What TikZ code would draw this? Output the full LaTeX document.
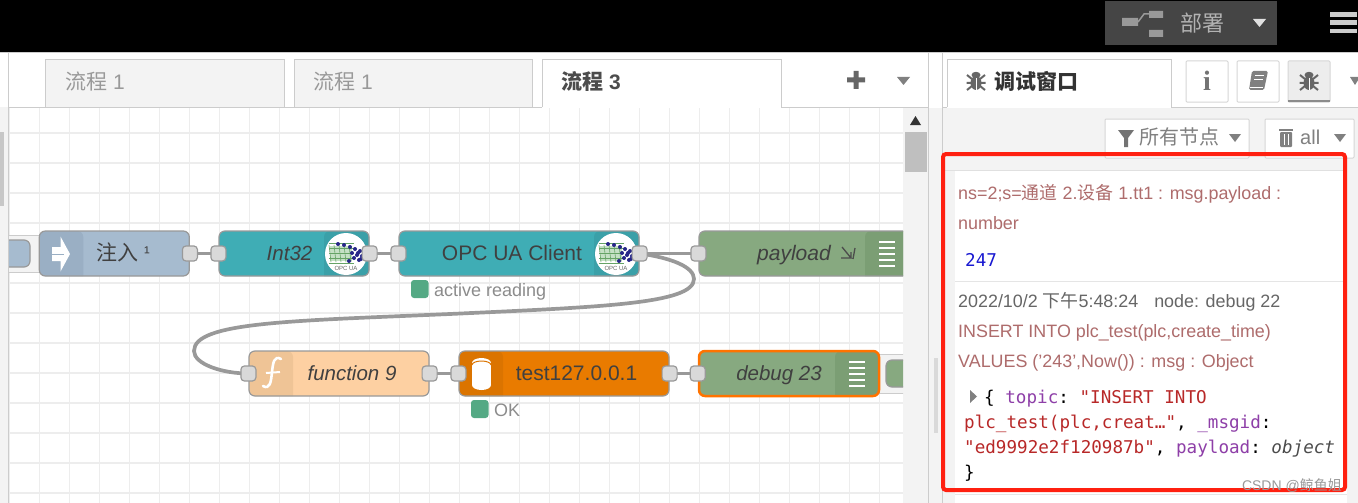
\documentclass[tikz,border=0pt]{standalone}
\usepackage{fontspec}
\setmainfont{Liberation Sans}
\setmonofont{DejaVu Sans Mono}
\newfontfamily\cjk{Noto Sans CJK SC}
\newfontfamily\slabfont{Liberation Serif}
\newcommand{\px}[1]{\fontsize{#1}{#1}\selectfont}
\definecolor{panelbg}{HTML}{F3F3F3}
\definecolor{edgegrey}{HTML}{CCCCCC}
\definecolor{wiregrey}{HTML}{999999}
\definecolor{injectblue}{HTML}{A6BBCF}
\definecolor{injectdark}{HTML}{9AAFC4}
\definecolor{opcteal}{HTML}{3FADB5}
\definecolor{opcdark}{HTML}{3AA0A8}
\definecolor{debuggreen}{HTML}{87A980}
\definecolor{debugdark}{HTML}{7B9E74}
\definecolor{funcorange}{HTML}{FDD0A2}
\definecolor{funcdark}{HTML}{EFC496}
\definecolor{dborange}{HTML}{E97B00}
\definecolor{dbdark}{HTML}{DB7400}
\definecolor{statusgreen}{HTML}{54A984}
\definecolor{topicred}{HTML}{AE6C6C}
\definecolor{keypurple}{HTML}{8E3FA8}
\definecolor{strred}{HTML}{B82828}
\tikzset{
	flownode/.style={draw=wiregrey, line width=1.2pt, rounded corners=6pt, inner sep=0pt, minimum height=45pt},
	leftpart/.style 2 args={path picture={\fill[#1] (path picture bounding box.north west) rectangle ++(#2,60);}},
	rightpart/.style 2 args={path picture={\fill[#1] (path picture bounding box.north east) rectangle ++(-#2,60);}},
	port/.style={draw=wiregrey, fill=black!15, line width=1.2pt, rounded corners=3.5pt, inner sep=0pt, minimum size=15pt},
	wire/.style={draw=wiregrey, line width=3.7pt},
	nodetext/.style={font=\px{21}, text=black!75, inner sep=0pt, text height=17pt, text depth=3pt},
	statustext/.style={font=\px{18}, text=black!45, inner sep=0pt, anchor=west, text height=15pt, text depth=2pt},
	tabtext/.style={font=\px{21}, text=black!40, inner sep=0pt, anchor=west, text height=17pt, text depth=3pt},
	tabbox/.style={draw=edgegrey, line width=1pt, fill=panelbg},
	msgtext/.style={font=\px{17.9}, inner sep=0pt, anchor=west, text height=15pt, text depth=2pt},
	objtext/.style={font=\ttfamily\px{17.6}, inner sep=0pt, anchor=west, text height=15pt, text depth=2pt},
	toolbox/.style={draw=edgegrey!80, line width=1pt, fill=white, rounded corners=1pt},
	bugicon/.pic={
		\fill (0,2) ellipse (5.5 and 7);
		\fill (0,-6) ellipse (4.5 and 3.2);
		\draw[line width=2pt] (-9,-6) -- (-4,-2) (9,-6) -- (4,-2) (-9.5,2) -- (9.5,2) (-9,9) -- (-4,5) (9,9) -- (4,5);
		\draw[white, line width=0.8pt] (0,-3) -- (0,9);
	},
	opcicon/.pic={
		\fill[white] (0,0) circle (21);
		\fill[green!30!gray!35] (-16,-8) rectangle (6,7);
		\foreach \a in {-13,-8,...,7}{
			\draw[green!40!black!60, line width=0.6pt] (\a-4,-9) -- (\a-2,8);
			\draw[green!40!black!60, line width=0.6pt] (-17,\a+2) -- (8,\a+2);
		}
		\foreach \a/\b in {4/-7,9/-5,14/-3,6/-1,11/1,16/2,8/4,13/6,3/7,-8/-10,-2/-9,12/-1,15/5}{
			\fill[blue!45!black!85] (\a,\b) circle (2);
		}
		\node[font=\px{6}, text=black!60, inner sep=0pt] (label) at (0,14) {OPC UA};
	},
	listicon/.pic={
		\foreach \a in {-12,-6,0,6,12}{
			\draw[white, line width=2.2pt] (-8,\a) -- (8,\a);
		}
	},
}
\begin{document}
\begin{tikzpicture}[x=1pt, y=-1pt]
	\useasboundingbox (0,0) rectangle (1358,503);
	\fill[white] (0,0) rectangle (1358,503);
	\fill[black] (0,0) rectangle (1358,52.5);
	\draw[edgegrey, line width=1pt] (0,53) -- (1358,53);

	% editor tabs
	\fill[panelbg] (0,107) rectangle (8.5,503);
	\fill[black!22] (0,132) rectangle (4,206);
	\draw[edgegrey, line width=1pt] (8.5,53) -- (8.5,503);
	\draw[edgegrey, line width=1pt] (8.5,107) -- (928,107);
	\draw[tabbox] (45.5,107) -- (45.5,59.5) -- (284,59.5) -- (284,107);
	\draw[tabbox] (294,107) -- (294,59.5) -- (532.5,59.5) -- (532.5,107);
	\fill[white] (542,60) rectangle (781,108);
	\draw[edgegrey, line width=1pt] (542,107) -- (542,59.5) -- (781,59.5) -- (781,107);
	\node[tabtext] (tabone) at (65,82) {{\cjk 流程} 1};
	\node[tabtext] (tabtwo) at (313,82) {{\cjk 流程} 1};
	\node[tabtext, text=black!70, font=\px{21}\bfseries] (tabthree) at (561,82) {{\cjk\bfseries 流程} 3};
	\fill[black!60] (853.5,71) rectangle (858.5,89) (847,77.5) rectangle (865,82.5);
	\fill[black!50] (897,77) -- (910,77) -- (903.5,85) -- cycle;

	% canvas
	\fill[panelbg] (903,108) rectangle (928,503);
	\fill[black!80] (910,125) -- (921,125) -- (915.5,116) -- cycle;
	\fill[black!25] (905,132) rectangle (926.5,172);
	\draw[edgegrey, line width=1pt] (928.5,53) -- (928.5,503);

	\begin{scope}
		\clip (9,108) rectangle (903,503);
		\foreach \x in {0,...,29}{
			\draw[black!7, line width=1.4pt] (9.5+30*\x,108) -- (9.5+30*\x,503);
		}
		\foreach \y in {0,...,12}{
			\draw[black!7, line width=1.4pt] (9,133+30*\y) -- (903,133+30*\y);
		}

		% button stubs at both ends
		\draw[fill=panelbg, draw=edgegrey, line width=1pt] (0,235) rectangle (42,272);
		\node[flownode, fill=injectblue, minimum width=30pt, minimum height=27pt] (injectbtn) at (15,253.5) {};
		\draw[fill=panelbg, draw=edgegrey, line width=1pt] (875,354) rectangle (910,393);
		\node[flownode, fill=debuggreen, minimum width=30pt, minimum height=27pt] (debugbtn) at (901,373.5) {};

		% flow nodes
		\node[flownode, fill=injectblue, minimum width=150pt, leftpart={injectdark}{44}] (inject) at (114.3,253.5) {};
		\node[flownode, fill=opcteal, minimum width=150pt, rightpart={opcdark}{45}] (int32) at (294,253.5) {};
		\node[flownode, fill=opcteal, minimum width=240pt, rightpart={opcdark}{45}] (opcclient) at (519,253.5) {};
		\node[flownode, fill=debuggreen, minimum width=225pt, rightpart={debugdark}{59}] (payload) at (811.5,253.5) {};
		\node[flownode, fill=funcorange, minimum width=180pt, leftpart={funcdark}{44}] (function) at (339,373.5) {};
		\node[flownode, fill=dborange, minimum width=210pt, leftpart={dbdark}{44}] (mysql) at (564,373.5) {};
		\node[flownode, fill=debuggreen, draw=orange!90!red, line width=2.5pt, minimum width=180pt, rightpart={debugdark}{44}] (debugnode) at (789,373.5) {};

		% wires
		\draw[wire] (inject.east) -- (int32.west);
		\draw[wire] (int32.east) -- (opcclient.west);
		\draw[wire] (opcclient.east) -- (payload.west);
		\draw[wire] (function.east) -- (mysql.west);
		\draw[wire] (mysql.east) -- (debugnode.west);
		\coordinate (bendright) at (694,279);
		\coordinate (bendleft) at (194,351);
		\draw[wire] (opcclient.east) .. controls (672,258) and (694,267) .. (bendright) .. controls (694,304) and (600,307) .. (450,314) .. controls (290,321) and (194,322) .. (bendleft) .. controls (194,364) and (222,373.5) .. (function.west);

		% icons
		\fill[white] (52,247) -- (60.5,247) -- (60.5,236.5) -- (70,254) -- (60.5,271.5) -- (60.5,261) -- (52,261) -- cycle;
		\draw[injectdark, line width=1pt] (52,254) -- (64,254);
		\pic (opcA) at (346,254) {opcicon};
		\pic (opcB) at (616,254) {opcicon};
		\pic (listA) at (887,254) {listicon};
		\pic (listB) at (857,374) {listicon};
		\draw[black!70, line width=1.3pt] (842,247) -- (851,258) -- (841,258) (851,258) -- (851,252) (855,248) -- (853,259);
		\draw[white, line width=2.6pt, line cap=round] (281,359) .. controls (274,355) and (273,363) .. (272,372) .. controls (271,382) and (270,390) .. (263,386);
		\draw[white, line width=2pt] (266,373) -- (280,372);
		\fill[white] (472,364) rectangle (491,385);
		\fill[white] (481.5,385) ellipse (9.5 and 5);
		\fill[white] (481.5,363) ellipse (9.5 and 5);
		\draw[dbdark, line width=1pt] (472,365) arc [start angle=180, end angle=360, x radius=9.5, y radius=4];

		% ports
		\foreach \p [count=\i] in {inject.east, int32.west, int32.east, opcclient.west, opcclient.east, payload.west, function.west, function.east, mysql.west, mysql.east, debugnode.west}{
			\node[port] (port\i) at (\p) {};
		}

		% labels on nodes
		\node[nodetext, anchor=west] (injectlabel) at (96,253.5) {{\cjk 注入} \raisebox{2pt}{\px{17}¹}};
		\node[nodetext, font=\px{20.5}\itshape] (int32label) at (289.5,253.5) {Int32};
		\node[nodetext] (opclabel) at (512,253.5) {OPC UA Client};
		\node[nodetext, font=\px{21}\itshape, anchor=west] (payloadlabel) at (757,253.5) {payload};
		\node[nodetext, font=\px{20.5}\itshape] (functionlabel) at (352,373.5) {function 9};
		\node[nodetext] (mysqllabel) at (576.5,373.5) {test127.0.0.1};
		\node[nodetext, font=\px{20.5}\itshape] (debuglabel) at (779,373.5) {debug 23};

		% status
		\fill[statusgreen, rounded corners=3pt] (411,280) rectangle (428.5,298);
		\node[statustext] (opcstatus) at (434,289.5) {active reading};
		\fill[statusgreen, rounded corners=3pt] (471,400) rectangle (488.5,418);
		\node[statustext] (dbstatus) at (494,409.5) {OK};
	\end{scope}

	% sidebar
	\fill[panelbg] (929,108) rectangle (1358,503);
	\fill[black!15] (934,358) rectangle (938,433);
	\draw[edgegrey, line width=1pt] (942,53) -- (942,503);
	\draw[edgegrey, line width=1pt] (942,107) -- (1358,107);
	\fill[white] (947,60) rectangle (1171,108);
	\draw[edgegrey, line width=1pt] (947,107) -- (947,59.5) -- (1171,59.5) -- (1171,107);
	\pic[black!60] (bugA) at (976,81) {bugicon};
	\node[inner sep=0pt, anchor=west, font=\cjk\bfseries\px{21}, text=black!80, text height=17pt, text depth=3pt] (debugtab) at (994,82) {调试窗口};
	\draw[toolbox] (1186,61) rectangle (1228,102);
	\draw[toolbox] (1237,61) rectangle (1279,102);
	\draw[toolbox, fill=black!7] (1288,61) rectangle (1330,102);
	\draw[black!45, line width=2pt] (1288,101) -- (1330,101);
	\node[inner sep=0pt, font=\slabfont\bfseries\px{28}, text=black!55] (infoicon) at (1207,81) {i};
	\fill[black!50, rounded corners=1.5pt] (1252,71) -- (1268,71) -- (1264,90) -- (1249,90) -- cycle;
	\draw[white, line width=0.8pt] (1255,75) -- (1264,75) (1254,79) -- (1263,79) (1250,87) -- (1263,87);
	\pic[black!60] (bugB) at (1309,81) {bugicon};
	\fill[black!50] (1350,77) -- (1360,77) -- (1355,85) -- cycle;

	\draw[toolbox] (1105,119) rectangle (1249,158);
	\draw[toolbox] (1265,119) rectangle (1354,158);
	\fill[black!55] (1118,130) -- (1134,130) -- (1128,138) -- (1128,147) -- (1124,147) -- (1124,138) -- cycle;
	\node[inner sep=0pt, anchor=west, font=\cjk\px{20}, text=black!50, text height=16pt, text depth=3pt] (filterlabel) at (1139,138) {所有节点};
	\fill[black!50] (1229,134) -- (1241,134) -- (1235,142) -- cycle;
	\fill[black!50, rounded corners=1pt] (1280,132) rectangle (1292,147);
	\fill[black!50] (1279,129) rectangle (1293,131);
	\draw[white, line width=0.8pt] (1284,134) -- (1284,145) (1288,134) -- (1288,145);
	\node[inner sep=0pt, anchor=west, font=\px{20}, text=black!50, text height=16pt, text depth=3pt] (alllabel) at (1300,138) {all};
	\fill[black!50] (1334,134) -- (1346,134) -- (1340,142) -- cycle;

	% message list
	\fill[white] (955,170) rectangle (1347,503);
	\draw[black!12, line width=1pt] (942,170) -- (1347,170);
	\draw[black!10, line width=1pt] (955,281) -- (1347,281);
	\draw[black!10, line width=1pt] (955,494) -- (1347,494);
	\node[msgtext, text=topicred] (msgone) at (958,193) {ns=2;s={\cjk 通道} 2.{\cjk 设备} 1.tt1 : msg.payload :};
	\node[msgtext, text=topicred] (msgtwo) at (958,223) {number};
	\node[objtext, text=blue!80!black!90] (msgvalue) at (965,259.5) {247};
	\node[msgtext, text=black!60] (msgtime) at (958,301) {2022/10/2 {\cjk 下午}5:48:24\hspace{11pt} node: debug 22};
	\node[msgtext, text=topicred] (msgsql) at (958,331) {INSERT INTO plc\_test(plc,create\_time)};
	\node[msgtext, text=topicred] (msgvals) at (958,361) {VALUES ('243',Now()) : msg : Object};
	\fill[black!50] (970,390) -- (977,396.5) -- (970,403) -- cycle;
	\node[objtext] (objone) at (984,397) {\{ \textcolor{keypurple}{topic}: \textcolor{strred}{"INSERT INTO}};
	\node[objtext] (objtwo) at (964,422) {\textcolor{strred}{plc\_test(plc,creat…"}, \textcolor{keypurple}{\_msgid}:};
	\node[objtext] (objthree) at (964,447) {\textcolor{strred}{"ed9992e2f120987b"}, \textcolor{keypurple}{payload}: \textcolor{black!70}{\textit{object}}};
	\node[objtext] (objfour) at (964,472) {\}};

	% highlight
	\draw[draw={rgb,255:red,255;green,32;blue,16}, line width=4pt, rounded corners=3pt] (943,154) rectangle (1345,490);
	\node[inner sep=0pt, anchor=east, font=\px{14}, text=black!40, text height=12pt, text depth=2pt] (watermark) at (1342,485) {CSDN @{\cjk 鲸鱼姐}};

	% top bar
	\fill[black!73] (1105,1) rectangle (1277,45);
	\fill[black!40] (1122,18) rectangle (1138,26) (1149,11) rectangle (1163,18) (1149,30) rectangle (1163,37);
	\draw[black!40, line width=1.5pt] (1138,22) -- (1144,14) -- (1149,14);
	\node[inner sep=0pt, font=\cjk\px{22}, text=black!30] (deploylabel) at (1202,23) {部署};
	\fill[black!12] (1253,19) -- (1266,19) -- (1259.5,27) -- cycle;
	\foreach \y in {14.5,22.5,31}{
		\fill[black!20] (1330,\y-2.3) rectangle (1356.5,\y+2.3);
	}
\end{tikzpicture}
\end{document}
